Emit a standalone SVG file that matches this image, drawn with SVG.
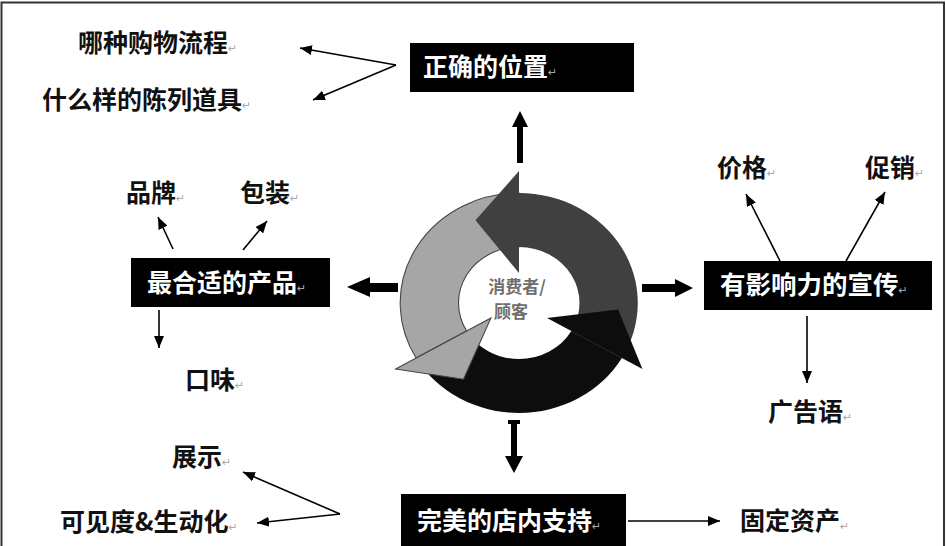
<svg xmlns="http://www.w3.org/2000/svg" width="946" height="546" viewBox="0 0 946 546">
<style>
.lbl{font-family:"Noto Sans CJK SC","Noto Sans CJK JP",sans-serif;font-weight:700;font-size:25px;fill:#111}
.btx{font-family:"Noto Sans CJK SC","Noto Sans CJK JP",sans-serif;font-weight:700;font-size:25px;fill:#fff}
.box{fill:#000}
.rm{font-family:"DejaVu Sans",sans-serif;font-weight:400;font-size:11px;fill:#aaa}
.ln{stroke:#000;stroke-width:1.6;fill:none;marker-end:url(#ah)}
.blk{fill:#000}
.ctr{font-family:"Noto Sans CJK SC",sans-serif;font-weight:700;font-size:17px;fill:#6e6e6e;text-anchor:middle}
</style>
<defs>
<marker id="ah" viewBox="0 0 12 10" refX="12" refY="5" markerWidth="12" markerHeight="10" orient="auto" markerUnits="userSpaceOnUse"><path d="M0,0 L12,5 L0,10 Z" fill="#000"/></marker>
</defs>
<rect width="946" height="546" fill="#fff"/>
<g id="frame" stroke="#333" stroke-width="2" fill="none">
<path d="M1.5,546 V2.5 H944 V546"/>
</g>

<g id="cycle" transform="translate(519,303) scale(1.08,1)">
<path d="M95.26,55 A110,110 0 0 0 0,-110 L0,-56 A56,56 0 0 1 48.5,28 Z" fill="#404040"/>
<path d="M0,-110 A110,110 0 0 0 -95.26,55 L-48.5,28 A56,56 0 0 1 0,-56 Z" fill="#a6a6a6" stroke="#444" stroke-width="1"/>
<path d="M-95.26,55 A110,110 0 0 0 95.26,55 L48.5,28 A56,56 0 0 1 -48.5,28 Z" fill="#0d0d0d"/>
<path d="M0,-132 L-40.3,-82.7 L0,-30 Z" fill="#404040"/>
<path d="M-114.3,66 L-51.4,76.3 L-25.98,15 Z" fill="#a6a6a6" stroke="#444" stroke-width="1"/>
<path d="M114.3,66 L91.8,6.4 L25.98,15 Z" fill="#0d0d0d"/>
</g>
<g id="center">
<text class="ctr" x="517" y="293">消费者/</text>
<text class="ctr" x="511" y="318">顾客</text>
</g>

<g id="connectors">
<path class="blk" d="M517,163 V127 H512 L520,111 L528,127 H523 V163 Z"/>
<path class="blk" d="M508,420 H520 V424 H517 V456 H523 L514,473 L505,456 H511 V424 H508 Z"/>
<path class="blk" d="M398,283 V292 H370 V297 L347,287 L370,277 V283 Z"/>
<path class="blk" d="M642,284 H675 V279 L693,288 L675,297 V292 H642 Z"/>
<line class="ln" x1="396" y1="65" x2="300" y2="48"/>
<line class="ln" x1="396" y1="65" x2="313" y2="100"/>
<line class="ln" x1="780" y1="261" x2="746" y2="194"/>
<line class="ln" x1="846" y1="261" x2="885" y2="192"/>
<line class="ln" x1="807" y1="316" x2="807" y2="383"/>
<line class="ln" x1="173" y1="249" x2="158" y2="217"/>
<line class="ln" x1="243" y1="250" x2="267" y2="221"/>
<line class="ln" x1="159" y1="310" x2="159" y2="348"/>
<line class="ln" x1="340" y1="514" x2="243" y2="472"/>
<line class="ln" x1="340" y1="514" x2="257" y2="523"/>
<line class="ln" x1="628" y1="521" x2="720" y2="521"/>
</g>

<g id="node-position">
<rect class="box" x="410" y="43" width="224" height="49"/>
<text class="btx" x="423" y="76">正确的位置<tspan class="rm">↵</tspan></text>
</g>
<g id="label-process"><text class="lbl" x="78" y="52">哪种购物流程<tspan class="rm">↵</tspan></text></g>
<g id="label-props"><text class="lbl" x="42" y="109">什么样的陈列道具<tspan class="rm">↵</tspan></text></g>

<g id="node-promo">
<rect class="box" x="704" y="261" width="228" height="49"/>
<text class="btx" x="720" y="294" style="font-size:25.5px">有影响力的宣传<tspan class="rm">↵</tspan></text>
</g>
<g id="label-price"><text class="lbl" x="717" y="177">价格<tspan class="rm">↵</tspan></text></g>
<g id="label-sales"><text class="lbl" x="865" y="177">促销<tspan class="rm">↵</tspan></text></g>
<g id="label-slogan"><text class="lbl" x="768" y="421">广告语<tspan class="rm">↵</tspan></text></g>

<g id="node-product">
<rect class="box" x="131" y="258" width="199" height="49"/>
<text class="btx" x="147" y="292">最合适的产品<tspan class="rm">↵</tspan></text>
</g>
<g id="label-brand"><text class="lbl" x="126" y="202">品牌<tspan class="rm">↵</tspan></text></g>
<g id="label-pack"><text class="lbl" x="240" y="202">包装<tspan class="rm">↵</tspan></text></g>
<g id="label-taste"><text class="lbl" x="185" y="389">口味<tspan class="rm">↵</tspan></text></g>

<g id="node-store">
<rect class="box" x="401" y="494" width="225" height="52"/>
<text class="btx" x="417" y="530">完美的店内支持<tspan class="rm">↵</tspan></text>
</g>
<g id="label-display"><text class="lbl" x="172" y="466">展示<tspan class="rm">↵</tspan></text></g>
<g id="label-visibility"><text class="lbl" x="60" y="531">可见度&amp;生动化<tspan class="rm">↵</tspan></text></g>
<g id="label-assets"><text class="lbl" x="740" y="530">固定资产<tspan class="rm">↵</tspan></text></g>
</svg>
